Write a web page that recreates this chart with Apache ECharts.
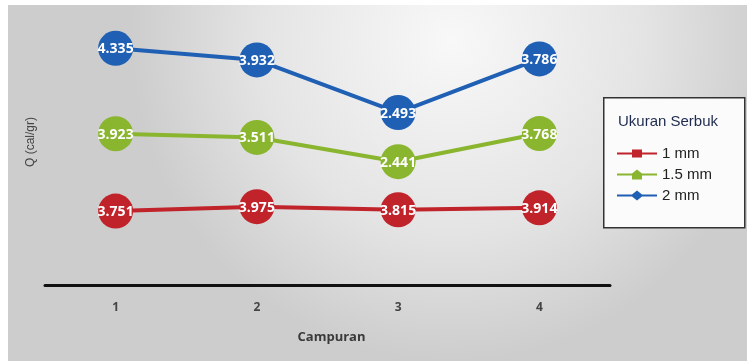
<!DOCTYPE html>
<html><head><meta charset="utf-8">
<script src="https://cdn.jsdelivr.net/npm/echarts@6/dist/echarts.min.js"></script>
<style>html,body{margin:0;padding:0;background:#fff}#c{width:747px;height:361px}</style>
</head><body><div id="c"></div>
<script>
const categories = ['1', '2', '3', '4'];
const seriesNames = ['1 mm', '1.5 mm', '2 mm'];
const values1mm = [3.751, 3.975, 3.815, 3.914];
const values15mm = [3.923, 3.511, 2.441, 3.768];
const values2mm = [4.335, 3.932, 2.493, 3.786];
const colors = ['#c0232a', '#8ab52f', '#1f5fb4'];
const legendTitle = 'Ukuran Serbuk';
const xName = 'Campuran';
const yName = 'Q (cal/gr)';

const icons = [
  'path://M0,4H15V1H25V4H40V6H25V9H15V6H0Z',
  'path://M0,4H15L20,0L25,4H40V6H25V10H15V6H0Z',
  'path://M0,4H15L20,0L25,4H40V6H25L20,10L15,6H0Z'
];

const chart = echarts.init(document.getElementById('c'));
const dataSets = [values1mm, values15mm, values2mm];
chart.setOption({
  animation: false,
  graphic: [
    { type: 'rect', left: 8, top: 5, shape: { width: 739, height: 356 }, z: -10,
      style: { fill: { type: 'radial', x: 0.6, y: 0.1, r: 0.9,
        colorStops: [{ offset: 0, color: '#f8f8f8' }, { offset: 0.6, color: '#e4e4e4' }, { offset: 1, color: '#cdcdcd' }] } } },
    { type: 'rect', left: 603, top: 97, shape: { width: 141, height: 130 }, z: 1,
      style: { fill: '#fbfbfb', stroke: '#333', lineWidth: 1.5 } },
    { type: 'text', left: 618, top: 114, z: 2,
      style: { text: legendTitle, fill: '#1e2a4f', font: '15px "Liberation Sans", Arial, sans-serif' } },
    { type: 'text', x: 31, y: 142, rotation: Math.PI / 2, z: 2,
      style: { text: yName, fill: '#444', font: '12px "Liberation Sans", Arial, sans-serif', textAlign: 'center', textVerticalAlign: 'middle' } }
  ],
  legend: {
    orient: 'vertical', left: 612, top: 141, itemWidth: 40, itemHeight: 10, itemGap: 6, z: 3,
    textStyle: { color: '#222', fontSize: 15, fontFamily: '"Liberation Sans", Arial, sans-serif' },
    data: seriesNames.map((n, i) => ({ name: n, icon: icons[i], itemStyle: { color: colors[i] } }))
  },
  grid: { left: 45, right: 137, top: 9, bottom: 76 },
  xAxis: {
    type: 'category', data: categories, boundaryGap: true,
    axisLine: { lineStyle: { color: '#111', width: 3 } },
    axisTick: { show: false },
    axisLabel: { color: '#444', fontSize: 12, fontWeight: 'bold', margin: 17, fontFamily: '"Open Sans", sans-serif' },
    name: xName, nameLocation: 'middle', nameGap: 46,
    nameTextStyle: { color: '#3a3a3a', fontSize: 13, fontWeight: 'bold', fontFamily: '"Open Sans", sans-serif', padding: [0, 0, 0, 8] }
  },
  yAxis: { type: 'value', min: 0, max: 14, show: false, splitLine: { show: false } },
  series: seriesNames.map((n, i) => ({
    name: n, type: 'line', stack: 'total', data: dataSets[i],
    symbol: 'circle', symbolSize: 35, color: colors[i],
    lineStyle: { width: 4, color: colors[i] },
    itemStyle: { color: colors[i] },
    label: { show: true, position: 'inside', color: '#fff', fontWeight: 'bold', fontSize: 14,
      fontFamily: '"Open Sans", sans-serif', offset: [0, 1],
      formatter: p => Number(p.value).toFixed(3) }
  }))
});
</script></body></html>
